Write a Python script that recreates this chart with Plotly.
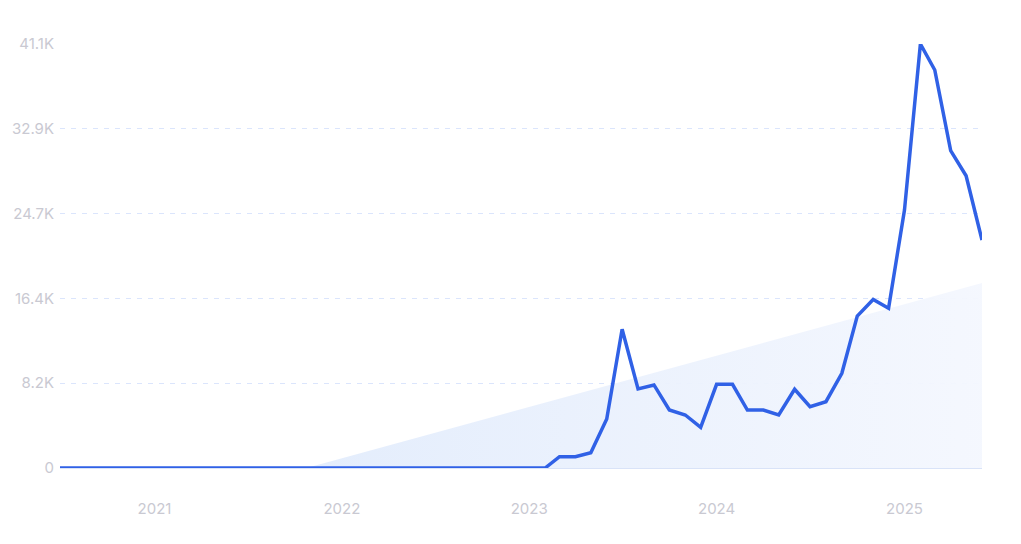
import plotly.graph_objects as go
import pandas as pd

# Monthly values, Jul 2020 .. Jun 2025
months = pd.date_range("2020-07-01", "2025-06-01", freq="MS").strftime("%Y-%m-%d").tolist()
values = [0] * 32 + [
    1100, 1100, 1480, 4750, 13450, 7660, 8050, 5620, 5140, 3950,
    8110, 8110, 5620, 5620, 5140, 7630, 5940, 6430, 9180, 14730,
    16330, 15490, 25000, 41100, 38580, 30760, 28330, 22100,
]

# Trend area (linear trend clipped at zero)
trend_x = ["2021-10-24", "2025-06-01"]
trend_y = [0, 17930]

y_ticks = [0, 8220, 16440, 24660, 32880, 41100]
y_tick_labels = ["0", "8.2K", "16.4K", "24.7K", "32.9K", "41.1K"]
x_ticks = ["2021-01-01", "2022-01-01", "2023-01-01", "2024-01-01", "2025-01-01"]
x_tick_labels = ["2021", "2022", "2023", "2024", "2025"]

fig = go.Figure()
fig.add_trace(go.Scatter(
    x=trend_x, y=trend_y, mode="lines", line=dict(width=0),
    fill="tozeroy",
    fillgradient=dict(type="horizontal",
                      colorscale=[[0, "rgba(226,236,252,0.95)"], [1, "rgba(244,247,254,0.95)"]]),
    hoverinfo="skip", showlegend=False,
))
fig.add_trace(go.Scatter(
    x=months, y=values, mode="lines",
    line=dict(color="#3061e6", width=3.5),
    showlegend=False, cliponaxis=False,
))

fig.update_layout(
    width=1013, height=536,
    margin=dict(l=52, r=39, t=36, b=76),
    paper_bgcolor="white", plot_bgcolor="white",
    font=dict(family="Inter, Roboto, sans-serif", size=15, color="#c9c9d2"),
    xaxis=dict(
        range=[months[0], months[-1]], automargin=False,
        tickvals=x_ticks, ticktext=x_tick_labels,
        showgrid=False, zeroline=False,
        showline=True, linecolor="#d9e3f8", linewidth=1,
        ticks="outside", ticklen=27, tickcolor="rgba(0,0,0,0)",
    ),
    yaxis=dict(
        range=[0, 41100], automargin=False,
        tickvals=y_ticks, ticktext=y_tick_labels,
        showgrid=True, gridcolor="#dbe5fc", griddash="5px,6px", gridwidth=1,
        zeroline=False, showline=False,
        ticks="outside", ticklen=2, tickcolor="rgba(0,0,0,0)",
    ),
)

fig.write_html("out.html")
